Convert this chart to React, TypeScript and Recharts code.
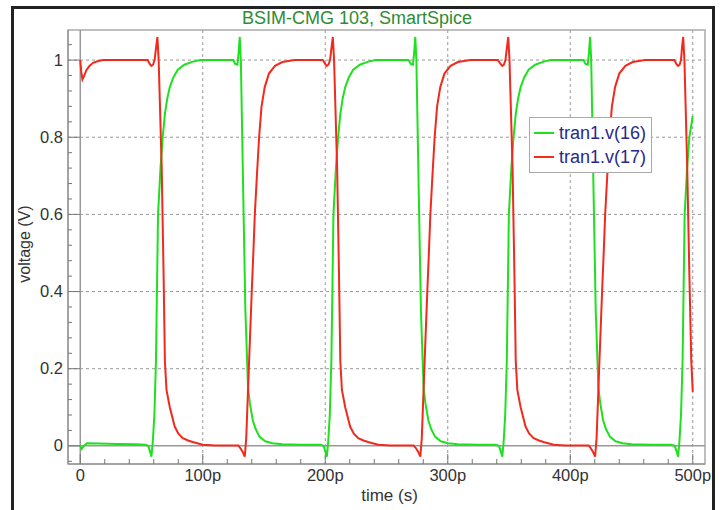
import {
  CartesianGrid,
  Legend,
  Line,
  LineChart,
  ReferenceArea,
  ReferenceLine,
  XAxis,
  YAxis,
} from "recharts"

// tran1.v(16) — [time (ps), voltage (V)]
const v16: [number, number][] = [
  [0, 0], [1.2, -0.008], [3, 0], [5.5, 0.007], [15, 0.006], [30, 0.005], [45, 0.004], [53, 0.003],
  [55.5, 0], [57, -0.015], [58.1, -0.028], [59.2, 0.01], [60.5, 0.08], [61.8, 0.22], [63.5, 0.6],
  [65.5, 0.72], [67.3, 0.8], [69.1, 0.86], [71, 0.9], [73.1, 0.93], [76, 0.955], [79.6, 0.975],
  [85, 0.988], [92, 0.996], [98, 1], [112, 1], [125, 1],
  [126.5, 0.99], [128.3, 0.988], [129.3, 1.02], [130.2, 1.06], [131.1, 1], [132.9, 0.68], [134.8, 0.35],
  [137, 0.15], [138.5, 0.11], [140.8, 0.067], [143, 0.045], [146.3, 0.024], [151, 0.012], [156.9, 0.007],
  [165, 0.004], [180, 0.003], [196, 0.003],
  [198.6, 0], [200.2, -0.015], [201.3, -0.028], [202.4, 0.01], [203.7, 0.08], [205, 0.22], [206.7, 0.6],
  [208.7, 0.72], [210.5, 0.8], [212.3, 0.86], [214.2, 0.9], [216.3, 0.93], [219.2, 0.955], [222.8, 0.975],
  [228.2, 0.988], [235.2, 0.996], [241, 1], [255, 1], [268, 1],
  [269.8, 0.99], [271.6, 0.988], [272.6, 1.02], [273.5, 1.06], [274.4, 1], [276.2, 0.68], [278.1, 0.35],
  [280.3, 0.15], [281.8, 0.11], [284.1, 0.067], [286.3, 0.045], [289.6, 0.024], [294.3, 0.012], [300.2, 0.007],
  [308, 0.004], [325, 0.003], [339, 0.003],
  [341.8, 0], [343.4, -0.015], [344.5, -0.028], [345.6, 0.01], [346.9, 0.08], [348.2, 0.22], [349.9, 0.6],
  [351.9, 0.72], [353.7, 0.8], [355.5, 0.86], [357.4, 0.9], [359.5, 0.93], [362.4, 0.955], [366, 0.975],
  [371.4, 0.988], [378.4, 0.996], [384, 1], [398, 1], [410.7, 1],
  [412.5, 0.99], [414.3, 0.988], [415.3, 1.02], [416.2, 1.06], [417.1, 1], [418.9, 0.68], [420.8, 0.35],
  [423, 0.15], [424.5, 0.11], [426.8, 0.067], [429, 0.045], [432.3, 0.024], [437, 0.012], [442.9, 0.007],
  [450, 0.004], [466, 0.003], [482.5, 0.003],
  [485.3, 0], [486.9, -0.015], [488, -0.028], [489.1, 0.01], [490.4, 0.08], [491.7, 0.22], [493.4, 0.6],
  [495.4, 0.72], [497.2, 0.8], [500, 0.855],
]

// tran1.v(17)
const v17: [number, number][] = [
  [0, 1], [0.8, 0.97], [1.8, 0.95], [3, 0.958], [5, 0.974], [7.5, 0.985], [10.5, 0.993], [14, 0.997],
  [18.5, 1], [35, 1], [55, 1],
  [56.7, 0.99], [58.1, 0.985], [59.4, 0.988], [60.7, 1], [62, 1.035], [63, 1.06], [64, 1], [66.5, 0.72],
  [68, 0.45], [69.1, 0.22], [70.4, 0.145], [73.1, 0.1], [77.1, 0.05], [80, 0.032], [83.7, 0.02], [88, 0.014],
  [91.8, 0.01], [100, 0.003], [110, 0.001], [129, 0.001],
  [130.5, -0.005], [132.5, -0.015], [134.3, -0.028], [135.5, 0.02], [137.6, 0.2], [140, 0.4], [141.3, 0.5],
  [142.5, 0.6], [144.2, 0.7], [146, 0.8], [148, 0.88], [150.6, 0.93], [154, 0.965], [159, 0.985],
  [165, 0.995], [175, 1], [198, 1],
  [199.9, 0.99], [201.3, 0.985], [202.6, 0.988], [203.9, 1], [205.2, 1.035], [206.2, 1.06], [207.2, 1],
  [209.7, 0.72], [211.2, 0.45], [212.3, 0.22], [213.6, 0.145], [216.3, 0.1], [220.3, 0.05], [223.2, 0.032],
  [226.9, 0.02], [231.2, 0.014], [235, 0.01], [243.2, 0.003], [253, 0.001], [272, 0.001],
  [273.8, -0.005], [275.8, -0.015], [277.6, -0.028], [278.8, 0.02], [280.9, 0.2], [283.3, 0.4], [284.6, 0.5],
  [285.8, 0.6], [287.5, 0.7], [289.3, 0.8], [291.3, 0.88], [293.9, 0.93], [297.3, 0.965], [302.3, 0.985],
  [308.3, 0.995], [318.3, 1], [341, 1],
  [343.1, 0.99], [344.5, 0.985], [345.8, 0.988], [347.1, 1], [348.4, 1.035], [349.4, 1.06], [350.4, 1],
  [352.9, 0.72], [354.4, 0.45], [355.5, 0.22], [356.8, 0.145], [359.5, 0.1], [363.5, 0.05], [366.4, 0.032],
  [370.1, 0.02], [374.4, 0.014], [378.2, 0.01], [386.4, 0.003], [396, 0.001], [415, 0.001],
  [416.5, -0.005], [418.5, -0.015], [420.3, -0.028], [421.5, 0.02], [423.6, 0.2], [426, 0.4], [427.3, 0.5],
  [428.5, 0.6], [430.2, 0.7], [432, 0.8], [434, 0.88], [436.6, 0.93], [440, 0.965], [445, 0.985],
  [451, 0.995], [461, 1], [485, 1],
  [486.6, 0.99], [488, 0.985], [489.3, 0.988], [490.4, 1], [491.3, 1.035], [492.2, 1.06], [493.2, 1],
  [495.5, 0.72], [497.2, 0.45], [498.8, 0.22], [500, 0.14],
]

const xTicks = [0, 20, 40, 60, 80, 100, 120, 140, 160, 180, 200, 220, 240, 260, 280, 300, 320, 340, 360, 380, 400, 420, 440, 460, 480, 500]
const xGrid = [100, 200, 300, 400, 500]
const yTicks = [
  -0.04, 0, 0.04, 0.08, 0.12, 0.16, 0.2, 0.24, 0.28, 0.32, 0.36, 0.4, 0.44, 0.48, 0.52,
  0.56, 0.6, 0.64, 0.68, 0.72, 0.76, 0.8, 0.84, 0.88, 0.92, 0.96, 1, 1.04,
]
const yMajor = [0, 0.2, 0.4, 0.6, 0.8, 1]
const yGrid = [0.2, 0.4, 0.6, 0.8, 1]

const font = '"Liberation Sans", Arial, sans-serif'
const toRows = (pts: [number, number][]) => pts.map(([t, v]) => ({ t, v }))

function YTick(props: any) {
  const { x, y, payload } = props
  const val = payload.value
  const major = yMajor.some((m) => Math.abs(m - val) < 1e-6)
  const ax = x + 6
  return (
    <g>
      <line x1={ax} x2={ax + (major ? 12 : 4)} y1={y} y2={y} stroke="#777" />
      {major && (
        <text x={x + 1} y={y} dy={5.5} textAnchor="end" fontSize={16.5} fill="#333" fontFamily={font}>
          {String(val)}
        </text>
      )}
    </g>
  )
}

function XTick(props: any) {
  const { x, y, payload } = props
  const val = payload.value
  const major = val % 100 === 0
  const ay = y - 4
  return (
    <g>
      <line x1={x} x2={x} y1={ay} y2={ay - (major ? 10 : 5)} stroke="#777" />
      {major && (
        <text x={x} y={ay} dy={17} textAnchor="middle" fontSize={16.5} fill="#333" fontFamily={font}>
          {val === 0 ? "0" : `${val}p`}
        </text>
      )}
    </g>
  )
}

function YLabel(props: any) {
  const { viewBox } = props
  const cx = viewBox.x + 11
  const cy = viewBox.y + viewBox.height / 2 - 3
  return (
    <text
      x={cx}
      y={cy}
      transform={`rotate(-90 ${cx} ${cy})`}
      textAnchor="middle"
      dominantBaseline="central"
      fontSize={16}
      fill="#333"
      fontFamily={font}
    >
      voltage (V)
    </text>
  )
}

function XLabel(props: any) {
  const { viewBox } = props
  return (
    <text
      x={viewBox.x + viewBox.width / 2 + 3}
      y={495}
      textAnchor="middle"
      dominantBaseline="central"
      fontSize={17}
      fill="#333"
      fontFamily={font}
    >
      time (s)
    </text>
  )
}

function LegendBox(props: any) {
  const items = props.payload || []
  return (
    <div
      style={{
        width: 123,
        height: 56,
        boxSizing: "border-box",
        border: "1.5px solid #aaa",
        background: "#fff",
        padding: "3px 0 0 4px",
        fontFamily: font,
      }}
    >
      {items.map((it: any) => (
        <div key={it.value} style={{ display: "flex", alignItems: "center", height: 24 }}>
          <span style={{ display: "inline-block", width: 20, height: 2, background: it.color, marginRight: 5 }} />
          <span style={{ color: "#27278f", fontSize: 18, whiteSpace: "nowrap" }}>{it.value}</span>
        </div>
      ))}
    </div>
  )
}

export default function App() {
  return (
    <div style={{ position: "absolute", left: 0, top: 0, width: 723, height: 510, background: "#fff", overflow: "hidden" }}>
      <LineChart width={723} height={510} margin={{ top: 30, right: 18, bottom: 16, left: 13 }}>
        <CartesianGrid
          strokeDasharray="3 3"
          stroke="#999"
          horizontalValues={yGrid}
          verticalValues={xGrid}
        />
        <XAxis
          dataKey="t"
          type="number"
          domain={[-10, 510]}
          allowDataOverflow
          ticks={xTicks}
          interval={0}
          height={30}
          tickSize={0}
          tickMargin={4}
          tickLine={false}
          tick={<XTick />}
          axisLine={{ stroke: "#888" }}
          label={{ value: "time (s)", content: <XLabel /> }}
        />
        <YAxis
          type="number"
          domain={[-0.047, 1.078]}
          allowDataOverflow
          ticks={yTicks}
          interval={0}
          width={55}
          tickSize={0}
          tickMargin={6}
          tickLine={false}
          tick={<YTick />}
          axisLine={{ stroke: "#888" }}
          label={{ value: "voltage (V)", content: <YLabel /> }}
        />
        <ReferenceArea x1={-10} x2={510} y1={-0.047} y2={1.078} fill="none" stroke="#aaa" strokeWidth={1.5} />
        <ReferenceLine y={0} stroke="#999" strokeWidth={1.5} />
        <ReferenceLine x={0} stroke="#999" strokeWidth={1.5} />
        <Legend
          layout="vertical"
          align="center"
          verticalAlign="middle"
          wrapperStyle={{ left: 529, top: 117, width: 123, height: 56 }}
          content={<LegendBox />}
        />
        <Line
          data={toRows(v16)}
          dataKey="v"
          name="tran1.v(16)"
          type="linear"
          stroke="#1fe01f"
          strokeWidth={2}
          dot={false}
          activeDot={false}
          isAnimationActive={false}
        />
        <Line
          data={toRows(v17)}
          dataKey="v"
          name="tran1.v(17)"
          type="linear"
          stroke="#f02a1c"
          strokeWidth={2}
          dot={false}
          activeDot={false}
          isAnimationActive={false}
        />
      </LineChart>
      <div
        style={{
          position: "absolute",
          left: 0,
          top: 7,
          width: 714,
          height: 22,
          lineHeight: "22px",
          textAlign: "center",
          fontFamily: font,
          fontSize: 18,
          color: "#2e8b36",
        }}
      >
        BSIM-CMG 103, SmartSpice
      </div>
      <div
        style={{
          position: "absolute",
          left: 11,
          top: 6,
          width: 704,
          height: 530,
          boxSizing: "border-box",
          border: "3px solid #222",
          pointerEvents: "none",
        }}
      />
    </div>
  )
}
